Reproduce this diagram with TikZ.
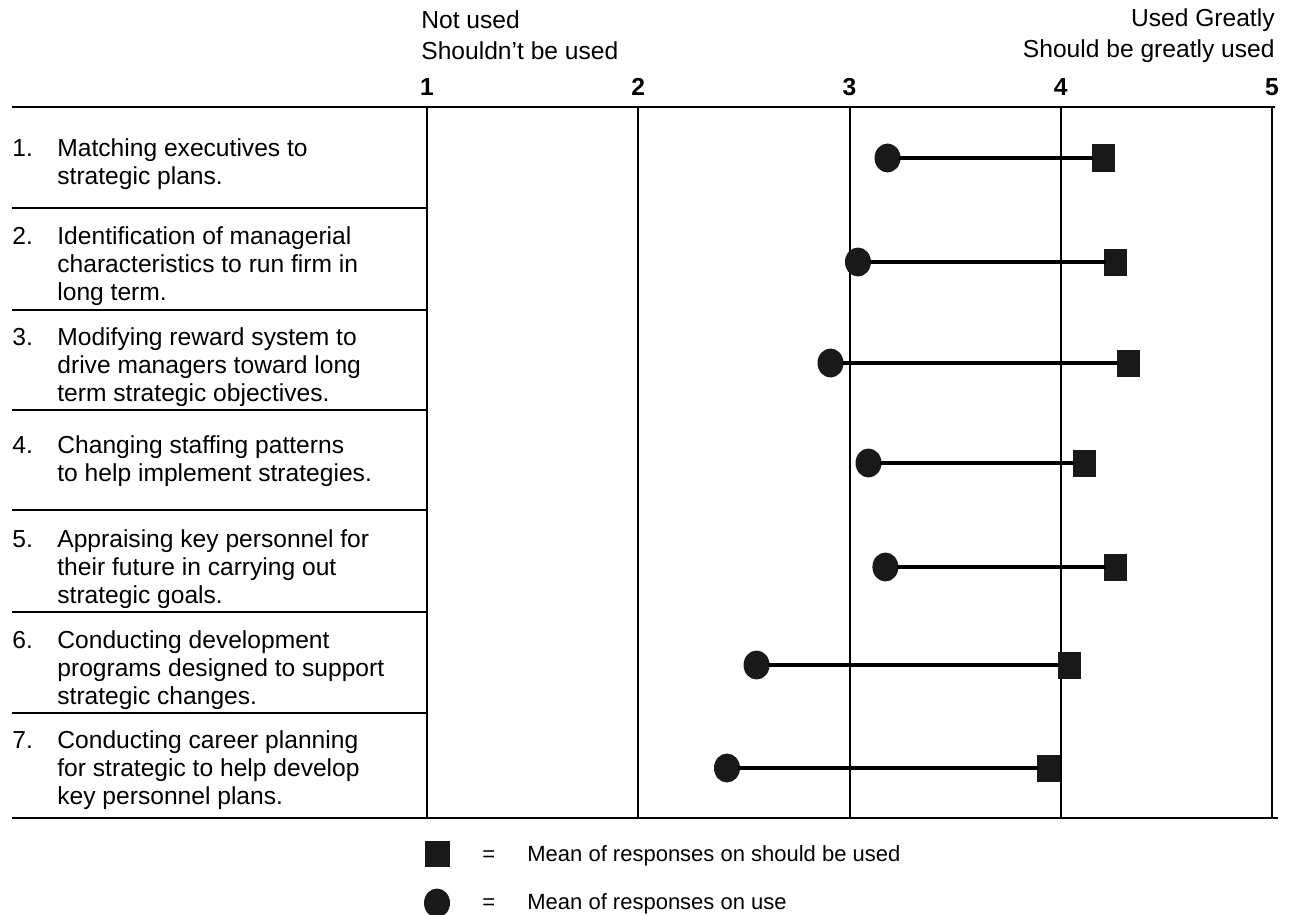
\documentclass[tikz,border=0pt]{standalone}
\usepackage{fontspec}
\setmainfont{Liberation Sans}
\usetikzlibrary{shapes.geometric}
\begin{document}
\begin{tikzpicture}[x=0.5pt,y=-0.5pt,font=\fontsize{12.3}{14}\selectfont,
	usedot/.style={ellipse,fill=black!90,minimum width=13pt,minimum height=14.5pt,inner sep=0pt},
	shouldbox/.style={rectangle,fill=black!90,minimum width=11.5pt,minimum height=13.5pt,inner sep=0pt},
	link/.style={line width=1.7pt,shorten <=-1pt,shorten >=-1pt},
	rowtext/.style={anchor=west,inner sep=0pt},
	keytext/.style={anchor=west,inner sep=0pt,font=\fontsize{11}{13}\selectfont}]
			
			\def\xs(#1){427+((#1)-1)*211.25}
			\useasboundingbox (0,0) rectangle (1290,915);
			\draw[line width=1.2pt] (12,107)--(1275,107);
			\draw[line width=1.2pt] (12,818)--(1278,818);
			\foreach \y in {208,310,410,510,612,713}\draw[line width=1pt] (12,\y)--(427,\y);
			\foreach \v in {1,...,5}{
				\draw[line width=1pt] ({\xs(\v)},107)--({\xs(\v)},818);
				\node[font=\bfseries\fontsize{12.3}{14}\selectfont] (n\v) at ({\xs(\v)},87) {\v};
			}
			\node[anchor=west,inner sep=0pt] (notused) at (421,20) {Not used};
			\node[anchor=west,inner sep=0pt] (shouldnt) at (421,51) {Shouldn't be used};
			\node[anchor=east,inner sep=0pt] (usedgr) at (1275,20) {Used Greatly};
			\node[anchor=east,inner sep=0pt] (shouldgr) at (1275,51) {Should be greatly used};
			\foreach \i/\y/\txt in {
				1/165/{Matching executives to\\strategic plans.},
				2/267/{Identification of managerial\\characteristics to run firm in\\long term.},
				3/368/{Modifying reward system to\\drive managers toward long\\term strategic objectives.},
				4/462/{Changing staffing patterns\\to help implement strategies.},
				5/570/{Appraising key personnel for\\their future in carrying out\\strategic goals.},
				6/671/{Conducting development\\programs designed to support\\strategic changes.},
				7/771/{Conducting career planning\\for strategic to help develop\\key personnel plans.}}
			\node[rowtext] (r\i) at (12,\y) {\begin{tabular}{@{}p{22.5pt}@{}l@{}}\i. & \begin{tabular}[t]{@{}l@{}}\txt\end{tabular}\end{tabular}};
			\foreach \i/\u/\s/\y in {1/3.18/4.20/158,2/3.04/4.26/262,3/2.91/4.32/363,4/3.09/4.11/463,5/3.17/4.26/567,6/2.56/4.04/665,7/2.42/3.94/768}{
				\node[usedot] (u\i) at ({\xs(\u)},\y) {};
				\node[shouldbox] (s\i) at ({\xs(\s)},\y) {};
				\draw[link] (u\i)--(s\i);
			}
			\node[shouldbox,minimum width=12.5pt,minimum height=13pt] (keys) at (437,854) {};
			\node[keytext] (eqs) at (482,856) {=};
			\node[keytext] (keystxt) at (527,856) {Mean of responses on should be used};
			\node[usedot] (keyu) at (437,903) {};
			\node[keytext] (equ) at (482,904) {=};
			\node[keytext] (keyutxt) at (527,904) {Mean of responses on use};
			
		\end{tikzpicture}
\end{document}
